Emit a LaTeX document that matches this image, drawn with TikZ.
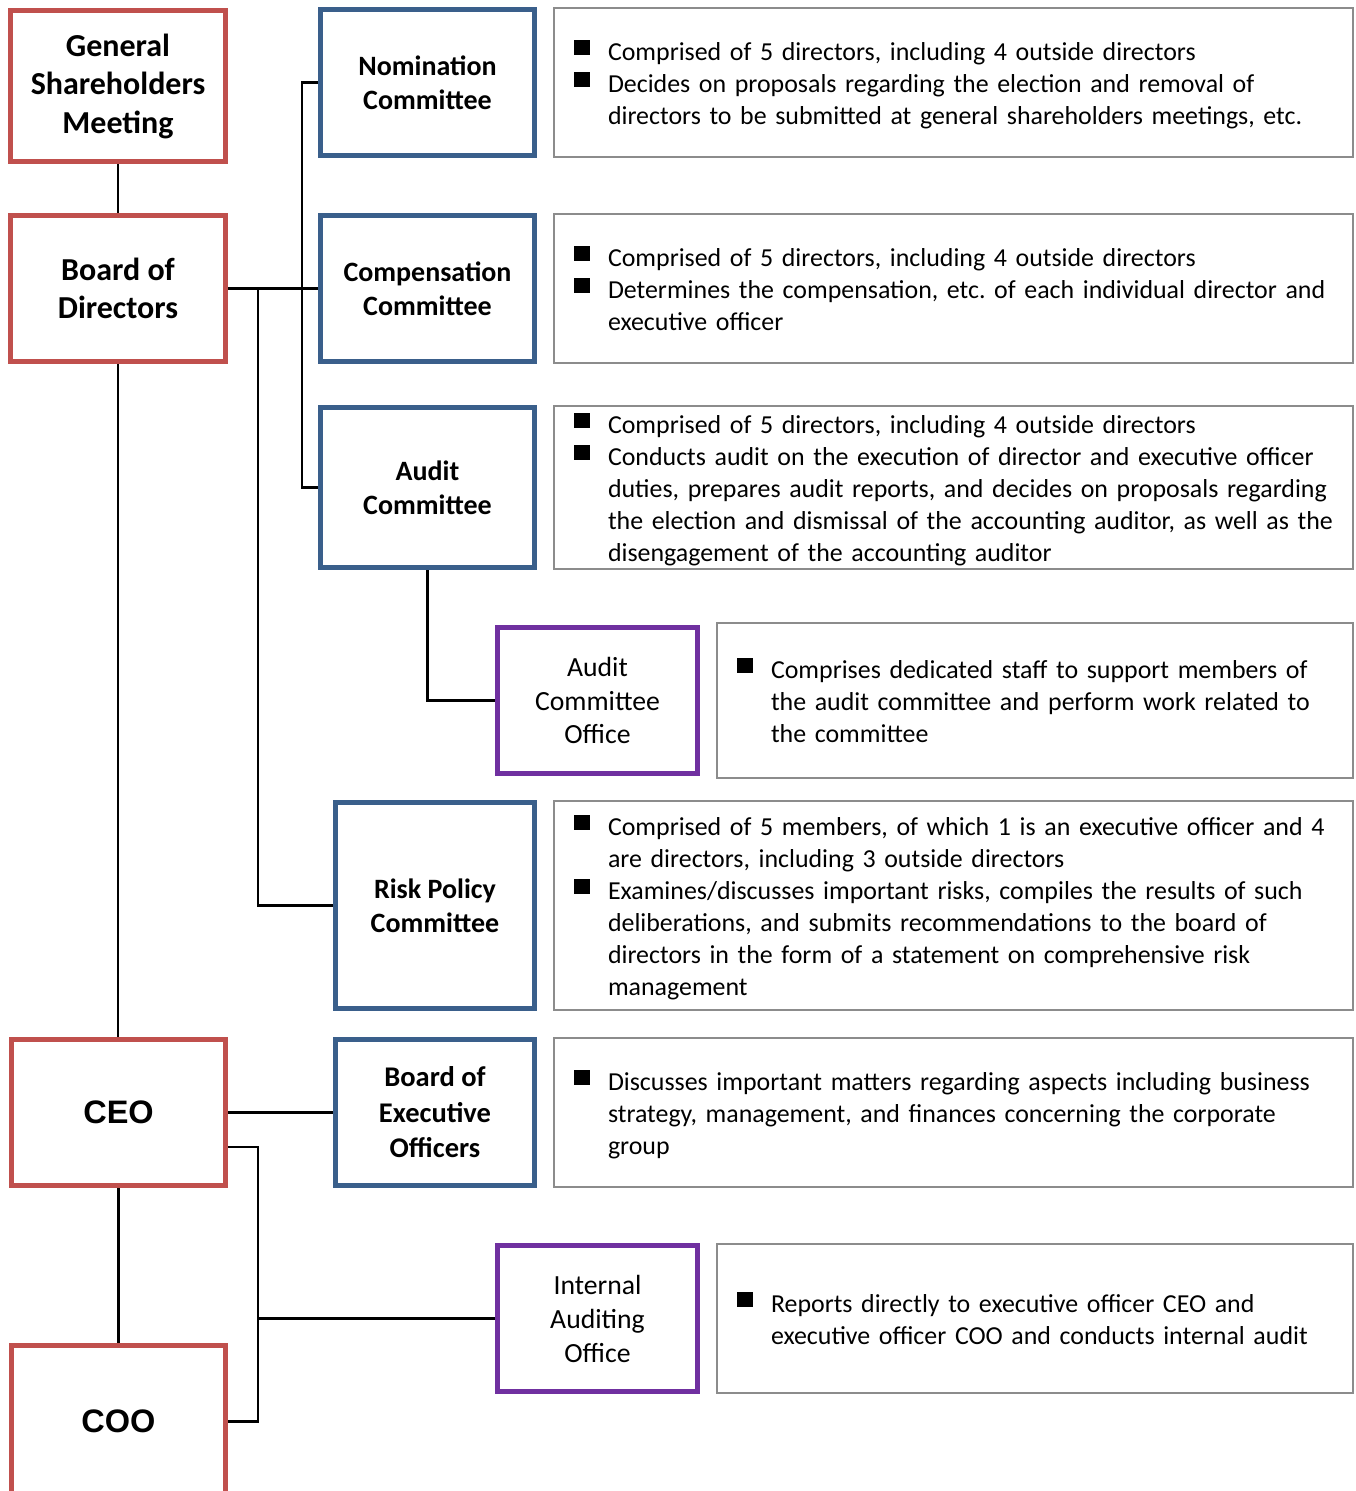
\documentclass[tikz,border=0pt]{standalone}
\usepackage{fontspec}
\setmainfont{Carlito}
\newfontfamily\arialf{Liberation Sans}
\definecolor{redb}{HTML}{C0504D}
\definecolor{blueb}{HTML}{3A5F8B}
\definecolor{purpb}{HTML}{7030A0}
\definecolor{grayb}{HTML}{8C8C8C}
\newcommand{\bul}{\rule[5.5pt]{15.5pt}{15pt}}
\newcommand{\lstrut}{\rule[-6pt]{0pt}{32pt}}
\newcommand{\bi}{\lstrut\hspace*{10pt}\makebox[34pt][l]{\bul}}
\newcommand{\ci}{\lstrut\hspace*{44pt}}
\frenchspacing
\hyphenpenalty=10000
\exhyphenpenalty=10000
\tikzset{
  redbox/.style={draw=redb, line width=5pt, align=center, inner sep=0pt},
  bluebox/.style={draw=blueb, line width=5pt, align=center, inner sep=0pt, font=\fontsize{28}{34}\selectfont\bfseries},
  purpbox/.style={draw=purpb, line width=5pt, align=center, inner sep=0pt, font=\fontsize{27.7}{33.5}\selectfont},
  descbox/.style={draw=grayb, line width=2pt, align=left, inner xsep=10pt, inner ysep=0pt,
    font=\fontsize{25.9}{32}\selectfont},
  conn/.style={line width=2.1pt, black},
}
\begin{document}
\begin{tikzpicture}[x=1pt,y=-1pt]
\useasboundingbox (0,0) rectangle (1356,1491);
% left column
\node[redbox, minimum width=215pt, minimum height=151pt, font=\fontsize{32}{38.5}\selectfont\bfseries] (gsm) at (118,86) {General\\Shareholders\\Meeting};
\node[redbox, minimum width=215pt, minimum height=146pt, font=\fontsize{32}{38.5}\selectfont\bfseries] (bod) at (118,288.5) {Board of\\Directors};
\node[redbox, minimum width=214pt, minimum height=146pt, font=\fontsize{32.5}{36}\selectfont\arialf\bfseries] (ceo) at (118.5,1112.5) {CEO};
\node[redbox, minimum width=214pt, minimum height=152pt, font=\fontsize{32.5}{36}\selectfont\arialf\bfseries] (coo) at (118.5,1421.5) {COO};
% committees
\node[bluebox, minimum width=214pt, minimum height=146pt] (nom) at (427.5,82.5) {Nomination\\Committee};
\node[bluebox, minimum width=214pt, minimum height=146pt] (comp) at (427.5,288.5) {Compensation\\Committee};
\node[bluebox, minimum width=214pt, minimum height=160pt] (aud) at (427.5,487.5) {Audit\\Committee};
\node[purpbox, minimum width=200pt, minimum height=146pt] (aco) at (597.5,700.5) {Audit\\Committee\\Office};
\node[bluebox, minimum width=199pt, minimum height=206pt] (risk) at (435,905.5) {Risk Policy\\Committee};
\node[bluebox, minimum width=199pt, minimum height=146pt, font=\fontsize{28.5}{35.5}\selectfont\bfseries] (beo) at (435,1112.5) {Board of\\Executive\\Officers};
\node[purpbox, minimum width=200pt, minimum height=146pt, font=\fontsize{27.7}{34}\selectfont] (iao) at (597.5,1318.5) {Internal\\Auditing\\Office};
% descriptions
\node[descbox, text width=779pt, minimum height=149pt] (d1) at (953.5,82.5) {\bi Comprised of 5 directors, including 4 outside directors\\
\bi Decides on proposals regarding the election and removal of\\
\ci directors to be submitted at general shareholders meetings, etc.};
\node[descbox, text width=779pt, minimum height=149pt] (d2) at (953.5,288.5) {\bi Comprised of 5 directors, including 4 outside directors\\
\bi Determines the compensation, etc. of each individual director and\\
\ci executive officer};
\node[descbox, text width=779pt, minimum height=163pt] (d3) at (953.5,487.5) {\bi Comprised of 5 directors, including 4 outside directors\\
\bi Conducts audit on the execution of director and executive officer\\
\ci duties, prepares audit reports, and decides on proposals regarding\\
\ci the election and dismissal of the accounting auditor, as well as the\\
\ci disengagement of the accounting auditor};
\node[descbox, text width=616pt, minimum height=155pt] (d4) at (1035,700.5) {\bi Comprises dedicated staff to support members of\\
\ci the audit committee and perform work related to\\
\ci the committee};
\node[descbox, text width=779pt, minimum height=209pt] (d5) at (953.5,905.5) {\bi Comprised of 5 members, of which 1 is an executive officer and 4\\
\ci are directors, including 3 outside directors\\
\bi Examines/discusses important risks, compiles the results of such\\
\ci deliberations, and submits recommendations to the board of\\
\ci directors in the form of a statement on comprehensive risk\\
\ci management};
\node[descbox, text width=779pt, minimum height=149pt] (d6) at (953.5,1112.5) {\bi Discusses important matters regarding aspects including business\\
\ci strategy, management, and finances concerning the corporate\\
\ci group};
\node[descbox, text width=616pt, minimum height=149pt] (d7) at (1035,1318.5) {\bi Reports directly to executive officer CEO and\\
\ci executive officer COO and conducts internal audit};
% connectors
\coordinate (jx1) at (258,0);
\coordinate (jx2) at (302,0);
\coordinate (ybr) at (0,1147);
\draw[conn] (gsm.south) -- (bod.north);
\draw[conn] (bod.south) -- (bod.south |- ceo.north);
\draw[conn] (bod.east) -- (comp.west);
\draw[conn] (nom.west) -- (nom.west -| jx2) -- (aud.west -| jx2) -- (aud.west);
\draw[conn] (bod.east -| jx1) -- (risk.west -| jx1) -- (risk.west);
\draw[conn] (aud.south) |- (aco.west);
\draw[conn] (ceo.east) -- (beo.west);
\draw[conn] (ceo.east |- ybr) -- (jx1 |- ybr) -- (jx1 |- coo.east) -- (coo.east);
\draw[conn] (iao.west -| jx1) -- (iao.west);
\draw[conn] (ceo.south) -- (coo.north);
\end{tikzpicture}
\end{document}
